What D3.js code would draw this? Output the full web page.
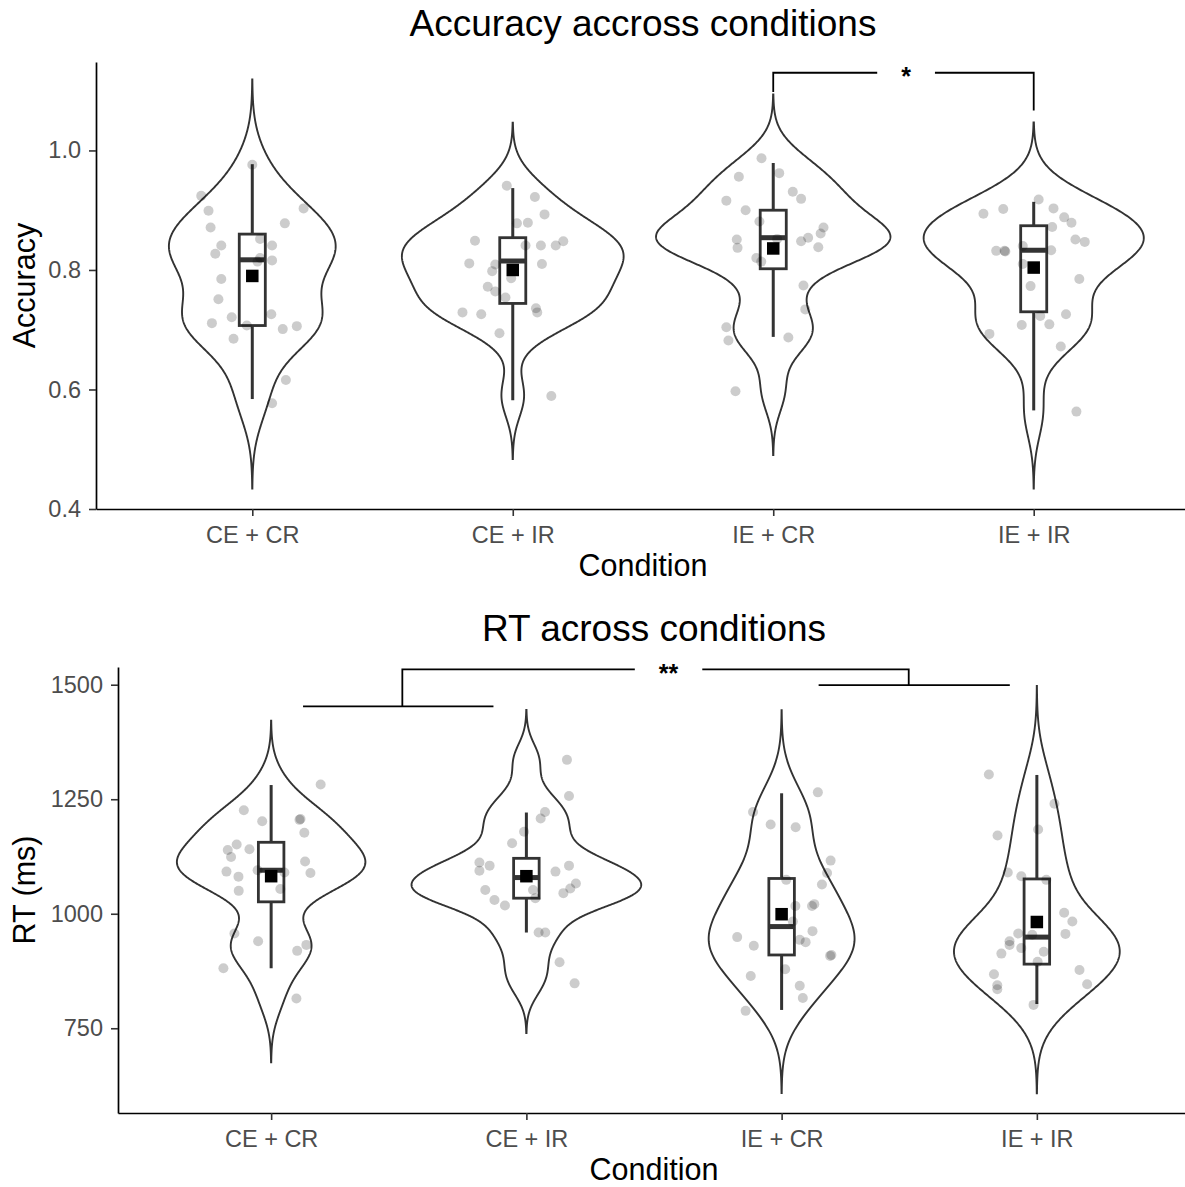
<!DOCTYPE html>
<html>
<head>
<meta charset="utf-8">
<script src="https://cdn.jsdelivr.net/npm/d3@7"></script>
<style>
  body { margin: 0; background: #fff; }
  svg { display: block; font-family: "Liberation Sans", Arial, sans-serif; }
</style>
</head>
<body>
<div id="chart"></div>
<script>
const conditions = ["CE + CR", "CE + IR", "IE + CR", "IE + IR"];

// one entry per participant: [value, horizontal jitter in condition steps]
const accPoints = [
    [[0.976, 0.00], [0.924, -0.196], [0.899, -0.168], [0.903, 0.197], [0.871, -0.160], [0.878, 0.125],
     [0.841, -0.119], [0.827, -0.142], [0.852, 0.030], [0.841, 0.076], [0.820, 0.030], [0.816, 0.076],
     [0.814, 0.020], [0.785, -0.119], [0.751, -0.130], [0.726, 0.073], [0.721, -0.079], [0.711, -0.155],
     [0.707, -0.021], [0.701, 0.117], [0.706, 0.171], [0.685, -0.072], [0.616, 0.129], [0.577, 0.076]],
    [[0.941, -0.023], [0.922, 0.085], [0.893, 0.122], [0.878, 0.016], [0.879, 0.058], [0.849, -0.145],
     [0.841, 0.049], [0.841, 0.108], [0.841, 0.165], [0.848, 0.194], [0.811, -0.167], [0.810, 0.112],
     [0.809, -0.067], [0.798, -0.079], [0.786, -0.006], [0.772, -0.096], [0.764, -0.067], [0.754, -0.028],
     [0.729, -0.193], [0.726, -0.121], [0.736, 0.089], [0.729, 0.094], [0.694, -0.051], [0.589, 0.148]],
    [[0.987, -0.045], [0.962, 0.023], [0.956, -0.132], [0.931, 0.075], [0.919, 0.107], [0.916, -0.180],
     [0.900, -0.106], [0.881, -0.053], [0.871, 0.193], [0.861, 0.182], [0.854, 0.134], [0.848, 0.107],
     [0.851, -0.140], [0.837, -0.137], [0.838, 0.173], [0.852, 0.015], [0.820, -0.065], [0.814, -0.046],
     [0.774, 0.116], [0.734, 0.123], [0.704, -0.180], [0.682, -0.172], [0.687, 0.058], [0.597, -0.145]],
    [[0.918, 0.019], [0.894, -0.193], [0.902, -0.117], [0.903, 0.076], [0.888, 0.117], [0.879, 0.145],
     [0.872, 0.071], [0.851, 0.160], [0.847, 0.196], [0.832, -0.144], [0.832, -0.112], [0.831, -0.109],
     [0.840, -0.042], [0.833, 0.067], [0.810, -0.042], [0.785, 0.175], [0.773, -0.012], [0.726, 0.124],
     [0.723, 0.025], [0.708, -0.046], [0.709, 0.060], [0.693, -0.170], [0.672, 0.104], [0.563, 0.164]]
];

const rtPoints = [
    [[1282, 0.194], [1226, -0.107], [1202, -0.035], [1207, 0.115], [1205, 0.111], [1177, 0.130],
     [1151, -0.135], [1139, -0.170], [1141, -0.085], [1124, -0.157], [1114, 0.133], [1095, -0.053],
     [1090, 0.052], [1089, 0.154], [1092, -0.175], [1081, -0.128], [1050, -0.127], [1054, 0.036],
     [957, -0.144], [940, -0.051], [932, 0.138], [919, 0.102], [881, -0.187], [815, 0.099]],
    [[1336, 0.159], [1257, 0.167], [1222, 0.073], [1208, 0.056], [1179, -0.009], [1154, -0.056],
     [1112, -0.184], [1105, -0.144], [1094, -0.184], [1105, 0.167], [1092, 0.114], [1066, 0.194],
     [1055, 0.172], [1045, 0.145], [1052, 0.026], [1034, 0.035], [1052, -0.161], [1030, -0.125],
     [1018, -0.084], [959, 0.048], [959, 0.074], [894, 0.130], [848, 0.189]],
    [[1265, 0.142], [1222, -0.112], [1195, -0.043], [1189, 0.055], [1116, 0.192], [1089, 0.178],
     [1064, 0.158], [1074, 0.018], [1017, 0.054], [1017, 0.119], [1021, 0.128], [983, 0.044],
     [962, 0.121], [949, -0.174], [930, -0.109], [943, 0.071], [938, 0.094], [910, 0.195],
     [908, 0.190], [879, 0.014], [864, -0.121], [843, 0.071], [816, 0.083], [788, -0.141]],
    [[1304, -0.188], [1240, 0.069], [1171, -0.154], [1184, 0.005], [1090, -0.114], [1082, -0.061],
     [1074, 0.037], [1002, 0.107], [983, 0.139], [956, 0.112], [957, -0.073], [940, -0.107],
     [932, -0.107], [954, -0.018], [925, -0.061], [913, -0.139], [917, 0.027], [895, 0.003],
     [868, -0.168], [844, -0.155], [835, -0.155], [877, 0.167], [846, 0.197], [801, -0.013]]
];

// boxplot summaries: [lower whisker, q1, median, q3, upper whisker]
const accBoxes = [
    [0.584, 0.707, 0.817, 0.860, 0.977],
    [0.582, 0.744, 0.815, 0.854, 0.937],
    [0.688, 0.802, 0.854, 0.900, 0.979],
    [0.565, 0.730, 0.833, 0.874, 0.914]
];
const rtBoxes = [
    [881, 1026, 1095, 1156, 1281],
    [959, 1034, 1079, 1121, 1221],
    [790, 910, 972, 1077, 1263],
    [803, 890, 949, 1076, 1303]
];
const accMeans = [0.790, 0.800, 0.836, 0.804];
const rtMeans = [1082, 1082, 999, 982];

const accTicks = [0.4, 0.6, 0.8, 1.0];
const rtTicks = [750, 1000, 1250, 1500];

// significance brackets, x in condition units (1 = first condition)
const accBracket = {
    top: 1.130, labelX: 3.51, label: "*",
    legs: [{ x: 3, y: 1.098 }, { x: 4, y: 1.067 }]
};
const rtBracket = {
    top: 1533.6, labelX: 2.557, label: "**",
    groups: [{ x1: 1.125, x2: 1.871, join: 1.514, y: 1452.8 },
             { x1: 3.145, x2: 3.894, join: 3.498, y: 1499.3 }]
};

const width = 1185;
const height = 1187;
const ink = "#333333";

const svg = d3.select("#chart")
    .append("svg")
    .attr("width", width)
    .attr("height", height);

// gaussian kernel density, bw.nrd0, extended 3 bandwidths past the data
function violinShape(values) {
    const sorted = values.slice().sort(d3.ascending);
    const n = sorted.length;
    const sd = d3.deviation(sorted);
    const iqr = d3.quantileSorted(sorted, 0.75) - d3.quantileSorted(sorted, 0.25);
    const bw = 0.9 * Math.min(sd, iqr / 1.34) * Math.pow(n, -0.2);
    const lo = sorted[0] - 3 * bw;
    const hi = sorted[n - 1] + 3 * bw;
    return d3.range(512).map(i => {
        const y = lo + (hi - lo) * i / 511;
        const dens = d3.sum(sorted, v => Math.exp(-0.5 * ((y - v) / bw) ** 2)) / (n * bw * Math.sqrt(2 * Math.PI));
        return { y, dens };
    });
}

function drawPanel(p) {
    const g = svg.append("g");

    const x = d3.scalePoint()
        .domain(conditions)
        .range([p.left, p.right])
        .padding(0.6);
    const step = x.step();
    const ux = u => x(conditions[0]) + (u - 1) * step;

    const y = d3.scaleLinear()
        .domain(p.yDomain)
        .range([p.bottom, p.top]);

    // --- violins ---
    const shapes = p.points.map(pts => violinShape(pts.map(d => d[0])));
    const maxDens = d3.max(shapes, s => d3.max(s, d => d.dens));

    shapes.forEach((shape, i) => {
        const cx = x(conditions[i]);
        const half = d => d.dens / maxDens * 0.45 * step;
        g.append("path")
            .datum(shape)
            .attr("d", d3.area()
                .y(d => y(d.y))
                .x0(d => cx - half(d))
                .x1(d => cx + half(d)))
            .attr("fill", "#fff")
            .attr("stroke", ink)
            .attr("stroke-width", 1.9);
    });

    // --- boxplots ---
    p.boxes.forEach((b, i) => {
        const cx = x(conditions[i]);
        const bw = 0.05 * step;
        g.append("line")
            .attr("x1", cx).attr("x2", cx)
            .attr("y1", y(b[0])).attr("y2", y(b[4]))
            .attr("stroke", ink)
            .attr("stroke-width", 3);
        g.append("rect")
            .attr("x", cx - bw)
            .attr("y", y(b[3]))
            .attr("width", 2 * bw)
            .attr("height", y(b[1]) - y(b[3]))
            .attr("fill", "#fff")
            .attr("stroke", ink)
            .attr("stroke-width", 2.8);
        g.append("line")
            .attr("x1", cx - bw).attr("x2", cx + bw)
            .attr("y1", y(b[2])).attr("y2", y(b[2]))
            .attr("stroke", ink)
            .attr("stroke-width", 5);
    });

    // --- jittered participants ---
    p.points.forEach((pts, i) => {
        const cx = x(conditions[i]);
        g.selectAll(null)
            .data(pts)
            .enter()
            .append("circle")
            .attr("cx", d => cx + d[1] * step)
            .attr("cy", d => y(d[0]))
            .attr("r", 5)
            .attr("fill", "#000")
            .attr("fill-opacity", 0.2);
    });

    // --- means ---
    const sq = 12.5;
    g.selectAll(null)
        .data(p.means)
        .enter()
        .append("rect")
        .attr("x", (d, i) => x(conditions[i]) - sq / 2)
        .attr("y", d => y(d) - sq / 2)
        .attr("width", sq)
        .attr("height", sq)
        .attr("fill", "#000");

    // --- significance bracket ---
    const br = p.bracket;
    const label = g.append("text")
        .attr("x", ux(br.labelX))
        .attr("y", y(br.top))
        .attr("dy", "0.5em")
        .attr("text-anchor", "middle")
        .style("font-size", "25px")
        .style("font-weight", "bold")
        .text(br.label);
    const gap = label.node().getComputedTextLength() / 2 + 24;
    const lx = ux(br.labelX);
    const path = d3.path();
    if (br.legs) {
        path.moveTo(ux(br.legs[0].x), y(br.legs[0].y));
        path.lineTo(ux(br.legs[0].x), y(br.top));
        path.lineTo(lx - gap, y(br.top));
        path.moveTo(lx + gap, y(br.top));
        path.lineTo(ux(br.legs[1].x), y(br.top));
        path.lineTo(ux(br.legs[1].x), y(br.legs[1].y));
    } else {
        const [a, b] = br.groups;
        br.groups.forEach(gr => {
            path.moveTo(ux(gr.x1), y(gr.y));
            path.lineTo(ux(gr.x2), y(gr.y));
        });
        path.moveTo(ux(a.join), y(a.y));
        path.lineTo(ux(a.join), y(br.top));
        path.lineTo(lx - gap, y(br.top));
        path.moveTo(lx + gap, y(br.top));
        path.lineTo(ux(b.join), y(br.top));
        path.lineTo(ux(b.join), y(b.y));
    }
    g.append("path")
        .attr("d", path.toString())
        .attr("fill", "none")
        .attr("stroke", "#000")
        .attr("stroke-width", 1.8);

    // --- axes ---
    const yAxis = g.append("g")
        .attr("transform", `translate(${p.left},0)`)
        .call(d3.axisLeft(y)
            .tickValues(p.ticks)
            .tickFormat(p.format)
            .tickSize(7)
            .tickSizeOuter(0)
            .tickPadding(8));

    const xAxis = g.append("g")
        .attr("transform", `translate(0,${p.bottom})`)
        .call(d3.axisBottom(x)
            .tickSize(7)
            .tickSizeOuter(0)
            .tickPadding(10.5));

    [xAxis, yAxis].forEach(ax => {
        ax.select(".domain").attr("stroke", "#000").attr("stroke-width", 1.7);
        ax.selectAll(".tick line").attr("stroke", ink).attr("stroke-width", 1.6);
        ax.selectAll(".tick text")
            .attr("fill", "#4d4d4d")
            .style("font-size", "23.5px")
            .style("font-family", "'Liberation Sans', Arial, sans-serif");
    });

    // --- titles ---
    g.append("text")
        .attr("x", (p.left + p.right) / 2)
        .attr("y", p.titleY)
        .attr("text-anchor", "middle")
        .style("font-size", "37px")
        .text(p.title);

    g.append("text")
        .attr("x", (p.left + p.right) / 2)
        .attr("y", p.bottom + 67)
        .attr("text-anchor", "middle")
        .style("font-size", "30.5px")
        .text("Condition");

    g.append("text")
        .attr("transform", `translate(35,${(p.top + p.bottom) / 2}) rotate(-90)`)
        .attr("text-anchor", "middle")
        .style("font-size", "30.5px")
        .text(p.yTitle);
}

drawPanel({
    title: "Accuracy accross conditions",
    yTitle: "Accuracy",
    points: accPoints,
    boxes: accBoxes,
    means: accMeans,
    ticks: accTicks,
    format: d3.format(".1f"),
    bracket: accBracket,
    yDomain: [0.4, 1.148],
    left: 96, right: 1190, top: 62, bottom: 509,
    titleY: 35.5
});

drawPanel({
    title: "RT across conditions",
    yTitle: "RT (ms)",
    points: rtPoints,
    boxes: rtBoxes,
    means: rtMeans,
    ticks: rtTicks,
    format: d3.format("d"),
    bracket: rtBracket,
    yDomain: [565, 1538.7],
    left: 118, right: 1190, top: 667, bottom: 1113,
    titleY: 641
});
</script>
</body>
</html>
